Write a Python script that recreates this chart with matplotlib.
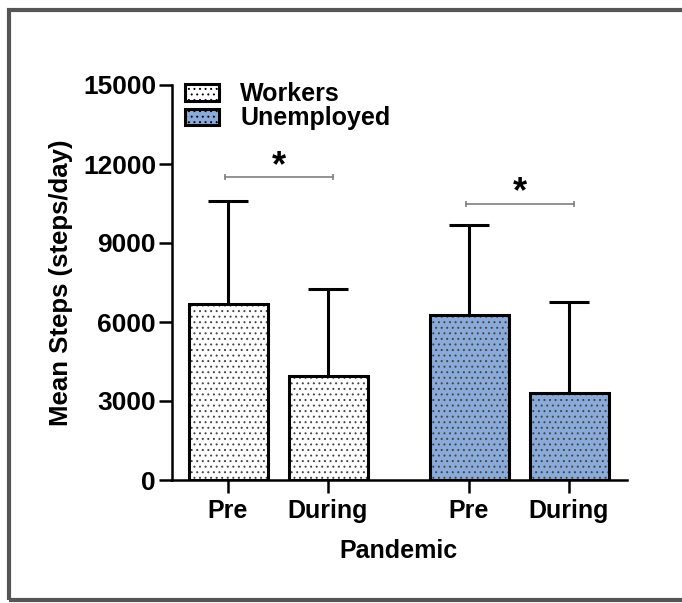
import numpy as np
import matplotlib
matplotlib.use("Agg")
import matplotlib.pyplot as plt
from matplotlib.patches import Rectangle, Patch

plt.rcParams["font.family"] = ["Liberation Sans", "DejaVu Sans"]
plt.rcParams["font.weight"] = "bold"
plt.rcParams["hatch.linewidth"] = 0.7

# data
groups = ["Workers", "Unemployed"]
tick_labels = ["Pre", "During", "Pre", "During"]
workers_mean = [6700, 3960]
workers_sd = [3900, 3280]
unemployed_mean = [6270, 3300]
unemployed_sd = [3430, 3450]
sig_levels = [11500, 10500]

colors = ["white", "#8AABD9"]
dot_color = "#444444"
pos = np.array([0, 1, 2.41, 3.41])
width = 0.79

fig = plt.figure(figsize=(6.82, 6.03), dpi=100)
ax = fig.add_axes([172 / 682, 123 / 603, 455 / 682, 395 / 603])

means = np.array(workers_mean + unemployed_mean)
sds = np.array(workers_sd + unemployed_sd)
bar_colors = [colors[0]] * 2 + [colors[1]] * 2

# error bars (upper only)
ax.vlines(pos, means, means + sds, color="black", lw=2.2, zorder=1)
ax.hlines(means + sds, pos - 0.2, pos + 0.2, color="black", lw=2.2, zorder=1)

# dotted fill, then black outline on top
ax.bar(pos, means, width=width, color=bar_colors, edgecolor=dot_color,
       linewidth=0, hatch="...", zorder=2)
ax.bar(pos, means, width=width, fill=False, edgecolor="black",
       linewidth=2.2, zorder=3)

# significance brackets
for i, lvl in enumerate(sig_levels):
    x0, x1 = pos[2 * i] - 0.03, pos[2 * i + 1] + 0.05
    ax.plot([x0, x1], [lvl, lvl], color="#808080", lw=1.2, zorder=3)
    ax.plot([x0, x1], [lvl, lvl], ls="none", marker="|", ms=5,
            mew=1.2, color="#808080", zorder=3)
    ax.text((x0 + x1) / 2, lvl - 250, "*", ha="center", va="bottom",
            fontsize=26, fontweight="bold")

ax.set_xlim(-0.56, 3.99)
ax.set_ylim(0, 15000)
ax.set_yticks(np.arange(0, 15001, 3000))
ax.set_xticks(pos)
ax.set_xticklabels(tick_labels)

for s in ["top", "right"]:
    ax.spines[s].set_visible(False)
for s in ["left", "bottom"]:
    ax.spines[s].set_linewidth(1.8)

ax.tick_params(axis="y", length=9.5, width=1.8, pad=2, labelsize=19)
ax.tick_params(axis="x", length=9, width=1.8, pad=5, labelsize=18)

ax.set_ylabel("Mean Steps (steps/day)", fontsize=18.5, fontweight="bold")
ax.yaxis.set_label_coords(-0.217, 0.5)
ax.set_xlabel("Pandemic", fontsize=18, fontweight="bold")
ax.xaxis.set_label_coords(0.497, -0.15)

handles = [Patch(facecolor=c, edgecolor="black", linewidth=2.2, hatch="...")
           for c in colors]
ax.legend(handles, groups, loc="upper left", bbox_to_anchor=(0.029, 1.007),
          frameon=False, borderpad=0, borderaxespad=0,
          handlelength=1.36, handleheight=0.62, handletextpad=0.85,
          labelspacing=0.01, prop={"weight": "bold", "size": 18})

# grey frame around the figure
fig.add_artist(Rectangle((9 / 682, 3 / 603), 1.1, 590 / 603,
                         transform=fig.transFigure, fill=False,
                         edgecolor="#555555", lw=3, clip_on=False))

fig.savefig("out.png", dpi=100)
